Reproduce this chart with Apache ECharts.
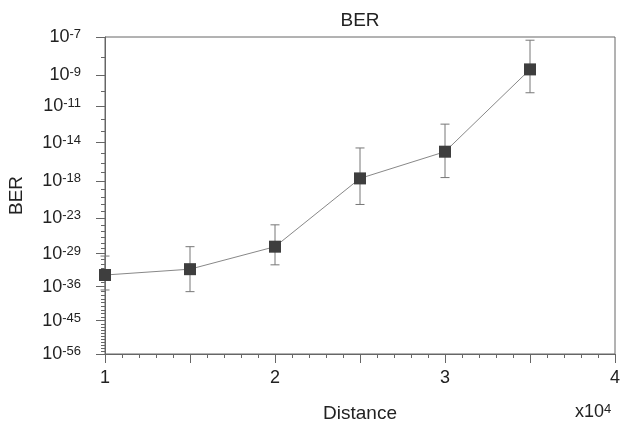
<!DOCTYPE html>
<html>
<head>
<meta charset="utf-8">
<script src="https://cdn.jsdelivr.net/npm/echarts@6/dist/echarts.min.js"></script>
<style>
  html, body { margin: 0; padding: 0; background: #fff; }
  #main { width: 626px; height: 425px; }
</style>
</head>
<body>
<div id="main"></div>
<script>
// distance (m) and measured BER with error range
const distance = [10000, 15000, 20000, 25000, 30000, 35000];
const ber = [4.4e-34, 7.9e-33, 2.0e-28, 2.0e-18, 1.4e-15, 2.2e-9];
const berUpper = [3.5e-30, 2.0e-28, 1.0e-24, 3.2e-15, 4.0e-13, 7.1e-8];
const berLower = [1.6e-37, 6.3e-38, 6.3e-32, 1.0e-21, 2.5e-18, 8.1e-11];

// y tick labels: 10^-n
const yTickExp = [7, 9, 11, 14, 18, 23, 29, 36, 45, 56];
const xTicks = [10000, 20000, 30000, 40000];

// axis works in log10(-log10(BER))
const toAxis = (b) => Math.log10(-Math.log10(b));
const expToAxis = (e) => Math.log10(e);

const majorY = yTickExp.map(expToAxis);
const minorY = [];
for (let e = yTickExp[0]; e <= yTickExp[yTickExp.length - 1]; e++) minorY.push(expToAxis(e));

const yMin = majorY[0];
const yMax = majorY[majorY.length - 1];

const lineData = distance.map((d, i) => [d, toAxis(ber[i])]);
const errData = distance.map((d, i) => [d, toAxis(berUpper[i]), toAxis(berLower[i])]);

const font = "Arial, 'Liberation Sans', sans-serif";
const axisColor = "#666";

const myChart = echarts.init(document.getElementById("main"), null, { renderer: "canvas" });

const option = {
  backgroundColor: "#fff",
  animation: false,
  title: {
    text: "BER",
    left: 360,
    textAlign: "center",
    top: 11,
    padding: 0,
    textStyle: { fontFamily: font, fontSize: 19, fontWeight: "normal", color: "#222" },
  },
  grid: {
    left: 105,
    right: 11,
    top: 37,
    bottom: 71,
    outerBoundsMode: "none",
    containLabel: false,
    show: true,
    borderColor: axisColor,
    borderWidth: 1,
  },
  xAxis: {
    type: "value",
    min: 10000,
    max: 40000,
    interval: 5000,
    name: "Distance",
    nameLocation: "middle",
    nameGap: 50,
    nameTextStyle: { fontFamily: font, fontSize: 19, color: "#222" },
    axisLine: { lineStyle: { color: axisColor } },
    axisTick: { show: true, length: 9, lineStyle: { color: axisColor } },
    minorTick: { show: true, splitNumber: 5, length: 4, lineStyle: { color: axisColor } },
    splitLine: { show: false },
    axisLabel: {
      margin: 15,
      fontFamily: font,
      fontSize: 18,
      color: "#222",
      formatter: (v) => (xTicks.indexOf(v) >= 0 ? String(v / 10000) : ""),
    },
  },
  yAxis: [
    {
      type: "value",
      inverse: true,
      min: yMin,
      max: yMax,
      name: "BER",
      nameLocation: "middle",
      nameGap: 79,
      nameRotate: 90,
      nameTextStyle: { fontFamily: font, fontSize: 19, color: "#222" },
      axisLine: { show: true, lineStyle: { color: axisColor } },
      axisTick: { show: true, length: 9, customValues: majorY, lineStyle: { color: axisColor } },
      splitLine: { show: false },
      axisLabel: {
        customValues: majorY,
        margin: 24,
        formatter: (v) => "{b|10}{s|-" + Math.round(Math.pow(10, v)) + "}",
        rich: {
          b: { fontFamily: font, fontSize: 18, color: "#222" },
          s: { fontFamily: font, fontSize: 13, color: "#222", verticalAlign: "top" },
        },
      },
    },
    {
      // minor ticks at every integer exponent
      type: "value",
      inverse: true,
      min: yMin,
      max: yMax,
      position: "left",
      axisLine: { show: false },
      axisTick: { show: true, length: 4, customValues: minorY, lineStyle: { color: axisColor } },
      axisLabel: { show: false },
      splitLine: { show: false },
    },
  ],
  series: [
    {
      name: "error",
      type: "custom",
      z: 1,
      data: errData,
      renderItem: function (params, api) {
        const x = api.value(0);
        const top = api.coord([x, api.value(1)]);
        const bot = api.coord([x, api.value(2)]);
        const w = 4.5;
        const style = { stroke: "#777", lineWidth: 1 };
        return {
          type: "group",
          children: [
            { type: "line", shape: { x1: top[0], y1: top[1], x2: bot[0], y2: bot[1] }, style },
            { type: "line", shape: { x1: top[0] - w, y1: top[1], x2: top[0] + w, y2: top[1] }, style },
            { type: "line", shape: { x1: bot[0] - w, y1: bot[1], x2: bot[0] + w, y2: bot[1] }, style },
          ],
        };
      },
    },
    {
      name: "BER",
      type: "line",
      z: 3,
      data: lineData,
      symbol: "rect",
      symbolSize: 12,
      lineStyle: { color: "#888", width: 1 },
      itemStyle: { color: "#3e3e3e" },
    },
  ],
  graphic: [
    {
      type: "text",
      left: 575,
      top: 403,
      style: {
        text: "{b|x10}{s|4}",
        rich: {
          b: { fontFamily: font, fontSize: 18, fill: "#222" },
          s: { fontFamily: font, fontSize: 13, fill: "#222", verticalAlign: "top" },
        },
      },
    },
  ],
};

myChart.setOption(option);
</script>
</body>
</html>
